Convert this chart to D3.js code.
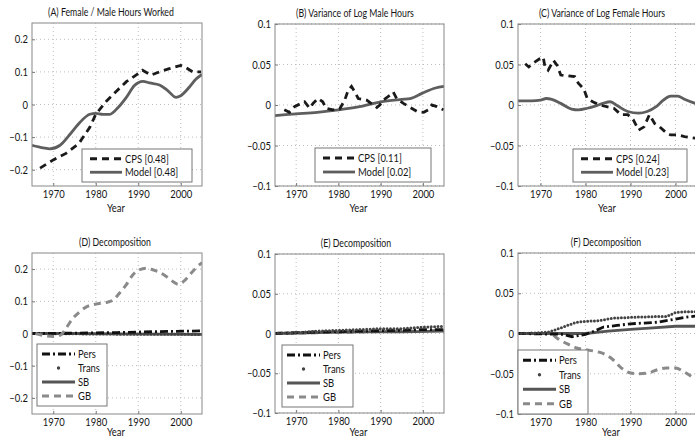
<!DOCTYPE html>
<html>
<head>
<meta charset="utf-8">
<script src="https://cdn.jsdelivr.net/npm/d3@7"></script>
<style>
  body { margin: 0; background: #fff; }
  text { font-family: Lato, "Open Sans", sans-serif; fill: #151515; }
</style>
</head>
<body>
<script>
// tick values
var yearTicks = [1970, 1980, 1990, 2000]
var wideTicks = [-0.2, -0.1, 0, 0.1, 0.2]
var narrowTicks = [-0.1, -0.05, 0, 0.05, 0.1]

// (A) female / male hours
var cpsA = [[1966.9,-0.195],[1970,-0.17],[1973,-0.15],[1976,-0.12],[1978.6,-0.07],[1980,-0.03],[1982.5,0.01],[1984.8,0.04],[1987.2,0.07],[1990,0.095],[1991,0.105],[1993,0.09],[1995,0.1],[1997.3,0.11],[2000,0.12],[2001,0.115],[2002.8,0.1],[2004.8,0.1]]
var modelA = [[1965,-0.125],[1967.7,-0.133],[1969.2,-0.136],[1971.6,-0.125],[1973.9,-0.092],[1976.2,-0.056],[1978.6,-0.03],[1980,-0.027],[1981.7,-0.03],[1983.3,-0.03],[1985.2,-0.01],[1987.2,0.022],[1989.1,0.058],[1991.1,0.071],[1992.7,0.066],[1995,0.06],[1997,0.042],[1998.9,0.022],[2000,0.027],[2002,0.053],[2003.6,0.078],[2005,0.092]]

// (B) variance of log male hours
var cpsB = [[1967.2,-0.006],[1968.4,-0.009],[1969.6,-0.002],[1971.2,0.002],[1972,0.004],[1973.2,-0.004],[1974,0.002],[1975.2,0.008],[1976.3,0.004],[1977.1,-0.004],[1978.7,-0.006],[1980.3,-0.005],[1981.5,0.006],[1982.3,0.018],[1983.1,0.023],[1983.9,0.016],[1984.7,0.008],[1986.7,0.006],[1988.3,0],[1989.1,-0.003],[1989.8,0],[1990.6,0.006],[1992.2,0.012],[1993,0.016],[1993.8,0.008],[1995.4,0.002],[1997,-0.003],[1998.6,-0.008],[2000.2,-0.009],[2001.3,-0.006],[2002.1,0],[2003.3,-0.002],[2004.9,-0.006]]
var modelB = [[1965,-0.013],[1970,-0.011],[1975,-0.009],[1980,-0.006],[1985,-0.002],[1990,0.004],[1995,0.007],[1997,0.008],[2000,0.015],[2003,0.021],[2005,0.023]]

// (C) variance of log female hours
var cpsC = [[1966.6,0.051],[1967.4,0.047],[1968.2,0.051],[1969.8,0.057],[1970.6,0.059],[1971,0.047],[1971.7,0.043],[1972.9,0.055],[1973.7,0.049],[1974.5,0.037],[1976.1,0.036],[1977.6,0.035],[1978.4,0.027],[1979.6,0.02],[1980.4,0.008],[1981.6,0.004],[1983.1,0],[1984.7,-0.002],[1986.3,-0.004],[1987.9,-0.012],[1989.4,-0.012],[1990.6,-0.018],[1991.8,-0.031],[1993,-0.027],[1994.2,-0.012],[1995.4,-0.023],[1996.5,-0.027],[1998.1,-0.035],[1998.9,-0.037],[2000.5,-0.037],[2002,-0.039],[2004.4,-0.041],[2005,-0.04]]
var modelC = [[1965,0.005],[1968,0.005],[1970,0.006],[1971.3,0.008],[1972.5,0.007],[1974.5,0.002],[1976.9,-0.005],[1978.4,-0.006],[1980.4,-0.004],[1982.3,-0.001],[1983.9,0.002],[1985.5,0.004],[1987.1,-0.001],[1989.4,-0.008],[1991.8,-0.01],[1993.7,-0.008],[1995.7,-0.002],[1997.3,0.006],[1998.9,0.011],[2000.5,0.011],[2002,0.007],[2004.4,0.002],[2005,0.001]]

// (D) decomposition, female / male hours
var persD = [[1965,0],[1975,0.001],[1985,0.003],[1995,0.006],[2005,0.008]]
var transD = [[1965,0],[1975,-0.001],[1985,-0.002],[1995,-0.002],[2005,-0.003]]
var sbD = [[1965,0],[1975,0],[1985,-0.001],[1995,-0.002],[2005,-0.003]]
var gbD = [[1965.8,0],[1968.2,-0.007],[1970.2,-0.009],[1971.7,-0.005],[1972.9,0.014],[1974.5,0.045],[1976.1,0.066],[1977.7,0.082],[1979.2,0.089],[1980.8,0.093],[1982.4,0.096],[1984,0.103],[1985.5,0.124],[1987.1,0.15],[1988.7,0.182],[1990.3,0.198],[1991.9,0.203],[1993.4,0.198],[1995,0.19],[1996.6,0.177],[1998.2,0.161],[1999.4,0.153],[2000.6,0.161],[2002.1,0.182],[2003.7,0.205],[2005,0.22]]

// (E) decomposition, male variance
var persE = [[1965,0],[1975,0.002],[1985,0.003],[1995,0.004],[2000,0.005],[2005,0.005]]
var transE = [[1965,0],[1970,0.001],[1975,0.003],[1980,0.004],[1985,0.005],[1990,0.006],[1995,0.006],[2000,0.008],[2005,0.009]]
var sbE = [[1965,0],[1975,0.001],[1985,0.002],[1995,0.002],[2005,0.003]]
var gbE = [[1965,0],[1975,0.001],[1985,0.002],[1995,0.003],[2005,0.004]]

// (F) decomposition, female variance
var persF = [[1965,0],[1975,-0.001],[1977,-0.004],[1980,-0.001],[1982,0.003],[1984,0.008],[1987,0.01],[1990,0.012],[1993,0.013],[1996,0.014],[1999,0.017],[2002,0.02],[2005,0.022]]
var transF = [[1965,0],[1970,0.001],[1972,0.002],[1974,0.006],[1976,0.01],[1978,0.014],[1980,0.015],[1983,0.016],[1986,0.019],[1990,0.02],[1995,0.021],[1998,0.021],[2000,0.026],[2002,0.027],[2005,0.027]]
var sbF = [[1965,0],[1980,0],[1985,0.003],[1990,0.005],[1995,0.007],[2000,0.009],[2005,0.009]]
var gbF = [[1965,0],[1972,0],[1974,-0.007],[1976,-0.013],[1978,-0.018],[1980,-0.02],[1982,-0.022],[1984,-0.025],[1986,-0.032],[1988,-0.043],[1990,-0.049],[1992,-0.05],[1994,-0.049],[1996,-0.045],[1998,-0.043],[2000,-0.043],[2002,-0.048],[2004,-0.055],[2005,-0.058]]

var width = 695, height = 439

// line styles
var styles = {
    cps: { color: "#1a1a1a", width: 2.8, dash: "7,5", curve: d3.curveLinear },
    model: { color: "#5e5e5e", width: 2.8, dash: null, curve: d3.curveMonotoneX },
    pers: { color: "#111", width: 2.8, dash: "8,3,2,3", curve: d3.curveLinear },
    trans: { color: "#444", width: 3, dash: "0,3.4", curve: d3.curveLinear },
    sb: { color: "#555", width: 2.8, dash: null, curve: d3.curveLinear },
    gb: { color: "#8a8a8a", width: 3, dash: "7,5", curve: d3.curveMonotoneX }
}

var panels = [
    { title: "(A) Female / Male Hours Worked", titleX: 111, box: [32, 23, 202, 186], y: [-0.25, 0.25], ticks: wideTicks,
      series: [["model", modelA], ["cps", cpsA]],
      legend: { box: [82, 149, 192, 182], items: [["cps", "CPS [0.48]"], ["model", "Model [0.48]"]] } },
    { title: "(B) Variance of Log Male Hours", titleX: 355, box: [275, 24, 444, 186], y: [-0.1, 0.1], ticks: narrowTicks,
      series: [["model", modelB], ["cps", cpsB]],
      legend: { box: [315, 148, 431, 182], items: [["cps", "CPS [0.11]"], ["model", "Model [0.02]"]] } },
    { title: "(C) Variance of Log Female Hours", titleX: 602, box: [518, 24, 698, 186], y: [-0.1, 0.1], ticks: narrowTicks,
      series: [["model", modelC], ["cps", cpsC]],
      legend: { box: [573, 149, 687, 182], items: [["cps", "CPS [0.24]"], ["model", "Model [0.23]"]] } },
    { title: "(D) Decomposition", titleX: 115, box: [32, 253, 202, 414], y: [-0.25, 0.25], ticks: wideTicks,
      series: [["sb", sbD], ["trans", transD], ["pers", persD], ["gb", gbD]],
      legend: { box: [37, 344, 107, 406], items: [["pers", "Pers"], ["trans", "Trans"], ["sb", "SB"], ["gb", "GB"]] } },
    { title: "(E) Decomposition", titleX: 356, box: [275, 254, 444, 413], y: [-0.1, 0.1], ticks: narrowTicks,
      series: [["gb", gbE], ["sb", sbE], ["pers", persE], ["trans", transE]],
      legend: { box: [282, 345, 353, 407], items: [["pers", "Pers"], ["trans", "Trans"], ["sb", "SB"], ["gb", "GB"]] } },
    { title: "(F) Decomposition", titleX: 606, box: [518, 253, 698, 414], y: [-0.1, 0.1], ticks: narrowTicks,
      series: [["gb", gbF], ["sb", sbF], ["pers", persF], ["trans", transF]],
      legend: { box: [518, 350, 588, 414], items: [["pers", "Pers"], ["trans", "Trans"], ["sb", "SB"], ["gb", "GB"]] } }
]

var svg = d3.select("body").append("svg")
    .attr("width", width)
    .attr("height", height)

function fmt(v) {
    if (v === 0) return "0"
    return (v < 0 ? "\u2013" : "") + String(Math.abs(v))
}

panels.forEach(function (p, i) {
    var x0 = p.box[0], y0 = p.box[1], x1 = p.box[2], y1 = p.box[3]
    var xScale = d3.scaleLinear().domain([1965, 2005]).range([x0, x1])
    var yScale = d3.scaleLinear().domain(p.y).range([y1, y0])
    var g = svg.append("g")

    // clip
    svg.append("clipPath").attr("id", "clip" + i)
        .append("rect").attr("x", x0).attr("y", y0).attr("width", x1 - x0).attr("height", y1 - y0)

    // grid
    g.append("g").selectAll("line").data(yearTicks).enter().append("line")
        .attr("x1", d => xScale(d)).attr("x2", d => xScale(d))
        .attr("y1", y0).attr("y2", y1)
        .attr("stroke", "#b5b5b5").attr("stroke-width", 0.9).attr("stroke-dasharray", "1,3")
    g.append("g").selectAll("line").data(p.ticks).enter().append("line")
        .attr("x1", x0).attr("x2", x1)
        .attr("y1", d => yScale(d)).attr("y2", d => yScale(d))
        .attr("stroke", "#b5b5b5").attr("stroke-width", 0.9).attr("stroke-dasharray", "1,3")

    // axes
    var xAxis = d3.axisBottom(xScale).tickValues(yearTicks).tickSize(3).tickPadding(1).tickFormat(d3.format("d"))
    var yAxis = d3.axisLeft(yScale).tickValues(p.ticks).tickSize(3).tickPadding(1).tickFormat(fmt)
    var gx = g.append("g").attr("transform", "translate(0," + y1 + ")").call(xAxis)
    var gy = g.append("g").attr("transform", "translate(" + x0 + ",0)").call(yAxis)
    ;[gx, gy].forEach(function (a) {
        a.select(".domain").remove()
        a.selectAll(".tick line").attr("stroke", "#777")
        a.selectAll("text").style("font-size", "11.5px").style("font-family", "Lato, sans-serif").attr("fill", "#151515")
    })
    gx.selectAll(".tick line").attr("y2", -3)
    gy.selectAll(".tick line").attr("x2", 3)

    // lines
    var lineGroup = g.append("g").attr("clip-path", "url(#clip" + i + ")")
    p.series.forEach(function (s) {
        var st = styles[s[0]]
        var line = d3.line().x(d => xScale(d[0])).y(d => yScale(d[1])).curve(st.curve)
        lineGroup.append("path").datum(s[1])
            .attr("d", line)
            .attr("fill", "none")
            .attr("stroke", st.color)
            .attr("stroke-width", st.width)
            .attr("stroke-dasharray", st.dash)
            .attr("stroke-linecap", s[0] === "trans" ? "round" : "butt")
    })

    // frame
    g.append("rect").attr("x", x0).attr("y", y0).attr("width", x1 - x0).attr("height", y1 - y0)
        .attr("fill", "none").attr("stroke", "#888").attr("stroke-width", 1)

    // titles
    g.append("text").attr("class", "title").attr("x", p.titleX).attr("y", y0 - 7)
        .attr("text-anchor", "middle").style("font-size", "10.8px").text(p.title)
    g.append("text").attr("x", x1 > width ? p.titleX + 5 : (x0 + x1) / 2 - 1).attr("y", Math.min(y1 + 26, height - 3))
        .attr("text-anchor", "middle").style("font-size", "11.5px").text("Year")

    // legend
    var L = p.legend
    var lg = g.append("g")
    lg.append("rect").attr("x", L.box[0]).attr("y", L.box[1])
        .attr("width", L.box[2] - L.box[0]).attr("height", L.box[3] - L.box[1])
        .attr("fill", "#fff").attr("stroke", "#777").attr("stroke-width", 1)
    var n = L.items.length
    var rowH = (L.box[3] - L.box[1] - 6) / n
    var sampleW = n > 2 ? 33 : 32
    L.items.forEach(function (it, k) {
        var st = styles[it[0]]
        var cy = L.box[1] + 3 + rowH * (k + 0.5)
        var sx0 = L.box[0] + (n > 2 ? 5 : 8)
        if (it[0] === "trans") {
            lg.append("circle").attr("cx", sx0 + sampleW / 2).attr("cy", cy).attr("r", 1.7).attr("fill", st.color)
        } else {
            lg.append("line").attr("x1", sx0).attr("x2", sx0 + sampleW).attr("y1", cy).attr("y2", cy)
                .attr("stroke", st.color).attr("stroke-width", st.width).attr("stroke-dasharray", st.dash)
        }
        lg.append("text").attr("x", sx0 + sampleW + 3).attr("y", cy).attr("dy", "0.35em")
            .style("font-size", "11.5px").text(it[1])
    })
})

// the source figure uses a condensed face: narrow every label a little
svg.selectAll("text").each(function () {
    var w = this.getComputedTextLength()
    var k = this.classList.contains("title") ? 0.81 : 0.82
    d3.select(this).attr("textLength", w * k).attr("lengthAdjust", "spacingAndGlyphs")
})
</script>
</body>
</html>
